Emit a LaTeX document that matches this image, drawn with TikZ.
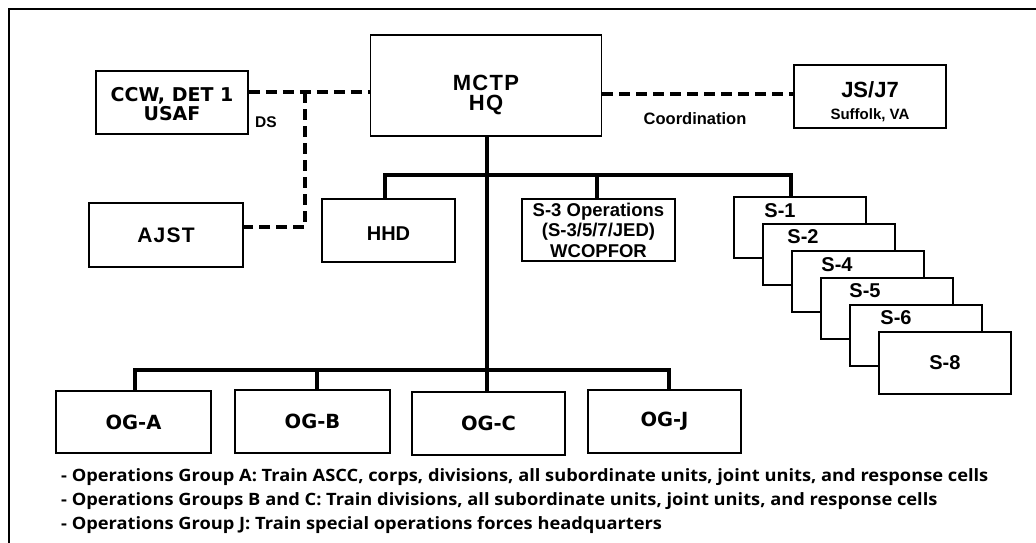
\documentclass[tikz,border=0pt]{standalone}
\usepackage{fontspec}
\setmainfont{Liberation Sans}
\newfontfamily\dvfont{DejaVu Sans}
\newfontfamily\osfont{Open Sans}[FakeStretch=1.075]
\begin{document}
\begin{tikzpicture}[x=1pt,y=1pt,
  box/.style={draw=black,line width=1.8pt,fill=white,inner sep=0pt,align=center},
  sbox/.style={draw=black,line width=1.8pt,fill=white,minimum width=132pt,minimum height=61pt,anchor=north west,inner sep=0pt},
  slabel/.style={font=\fontsize{20}{21}\selectfont\bfseries,anchor=center},
  inlbl/.style={align=center,inner sep=0pt},
  tree/.style={line width=3.6pt,line cap=rect},
  dashline/.style={line width=3.5pt,dash pattern=on 11pt off 6pt},
  lbl/.style={inner sep=0pt}]
\useasboundingbox (0,0) rectangle (1036,-542);
\begin{scope}
\clip (0,0) rectangle (1036,-542);
\draw[line width=2pt] (9,-9) rectangle (1060,-580);
\end{scope}

% top row
\node[box,minimum width=231pt,minimum height=101pt,
  label={[inlbl,yshift=-9pt,font=\fontsize{22}{20}\selectfont\bfseries\addfontfeature{LetterSpace=6}]center:MCTP\\HQ}] (hq) at (486,-85.5) {};
\node[box,minimum width=152pt,minimum height=63pt,
  label={[inlbl,yshift=-1.5pt,font=\dvfont\bfseries\fontsize{19}{19}\selectfont]center:CCW, DET 1\\USAF}] (ccw) at (172,-102.5) {};
\node[box,minimum width=152pt,minimum height=63pt,
  label={[inlbl,yshift=-5pt,font=\bfseries\fontsize{22}{22}\selectfont]center:JS/J7\\{\fontsize{15}{20}\selectfont Suffolk, VA}}] (js) at (870,-96.5) {};

% second row
\node[box,minimum width=154pt,minimum height=64pt,font=\bfseries\fontsize{21}{21}\selectfont\addfontfeature{LetterSpace=6}] (ajst) at (166,-235)
  {AJST};
\node[box,minimum width=133pt,minimum height=63pt,
  label={[inlbl,yshift=-3pt,font=\bfseries\fontsize{20}{20}\selectfont]center:HHD}] (hhd) at (388.5,-230.5) {};
\node[box,minimum width=153pt,minimum height=62pt,font=\bfseries\fontsize{18.5}{20.5}\selectfont] (s3) at (598.5,-230)
  {S-3 Operations\\(S-3/5/7/JED)\\WCOPFOR};

% S stack
\node[sbox] (s1) at (733,-196) {};
\node[slabel] at ([xshift=47pt,yshift=-15pt]s1.north west) {S-1};
\node[sbox] (s2) at (762,-223) {};
\node[slabel] at ([xshift=41pt,yshift=-14pt]s2.north west) {S-2};
\node[sbox] (s4) at (791,-250) {};
\node[slabel] at ([xshift=46pt,yshift=-15pt]s4.north west) {S-4};
\node[sbox] (s5) at (820,-277) {};
\node[slabel] at ([xshift=45pt,yshift=-14pt]s5.north west) {S-5};
\node[sbox] (s6) at (849,-304) {};
\node[slabel] at ([xshift=47pt,yshift=-14pt]s6.north west) {S-6};
\node[sbox,minimum height=62pt] (s8) at (878,-331) {};
\node[slabel] at (s8.center) {S-8};

% OG row
\tikzset{og/.style={box,font=\dvfont\bfseries\fontsize{19.5}{19}\selectfont}}
\node[og,minimum width=155pt,minimum height=62pt] (oga) at (133.5,-422) {OG-A};
\node[og,minimum width=155pt,minimum height=63pt] (ogb) at (312.5,-421.5) {OG-B};
\node[og,minimum width=153pt,minimum height=63pt] (ogc) at (488.5,-423.5) {OG-C};
\node[og,minimum width=153pt,minimum height=63pt] (ogj) at (664.5,-421.5) {OG-J};

% solid tree
\coordinate (topbar) at (0,-175);
\coordinate (ogbar) at (0,-370);
\draw[tree] ([xshift=1pt]hq.south) -- ([xshift=1pt]hq.south |- ogbar);
\draw[tree] ([xshift=-3.5pt]hhd.north) -- ([xshift=-3.5pt]hhd.north |- topbar) -- ([xshift=-9pt]s1.north |- topbar) -- ([xshift=-9pt]s1.north);
\draw[tree] ([xshift=-1.5pt]s3.north) -- ([xshift=-1.5pt]s3.north |- topbar);
\draw[tree] ([xshift=1.5pt]oga.north) -- ([xshift=1.5pt]oga.north |- ogbar) -- ([xshift=4.5pt]ogj.north |- ogbar) -- ([xshift=4.5pt]ogj.north);
\draw[tree] ([xshift=4.5pt]ogb.north) -- ([xshift=4.5pt]ogb.north |- ogbar);
\draw[tree] ([xshift=-1.5pt]ogc.north) -- ([xshift=-1.5pt]ogc.north |- ogbar);

% dashed links
\coordinate (dsy) at (0,-92);
\coordinate (dsx) at (305,0);
\coordinate (ajy) at (0,-227);
\draw[dashline] (ccw.east |- dsy) -- (hq.west |- dsy);
\draw[dashline] (dsx |- dsy) -- (dsx |- ajy) -- (ajst.east |- ajy);
\coordinate (cy) at (0,-94);
\draw[dashline] (hq.east |- cy) -- (js.west |- cy);

\node[lbl,font=\fontsize{15.5}{16}\selectfont\bfseries] (ds) at (266,-122) {DS};
\node[lbl,font=\fontsize{16.5}{17}\selectfont\bfseries] (coord) at (695,-119) {Coordination};

% notes
\node[anchor=west,align=left,inner sep=0pt,font=\osfont\bfseries\fontsize{17}{24}\selectfont] (notes) at (61,-501)
{- Operations Group A: Train ASCC, corps, divisions, all subordinate units, joint units, and response cells\\
- Operations Groups B and C: Train divisions, all subordinate units, joint units, and response cells\\
- Operations Group J: Train special operations forces headquarters};
\end{tikzpicture}
\end{document}
